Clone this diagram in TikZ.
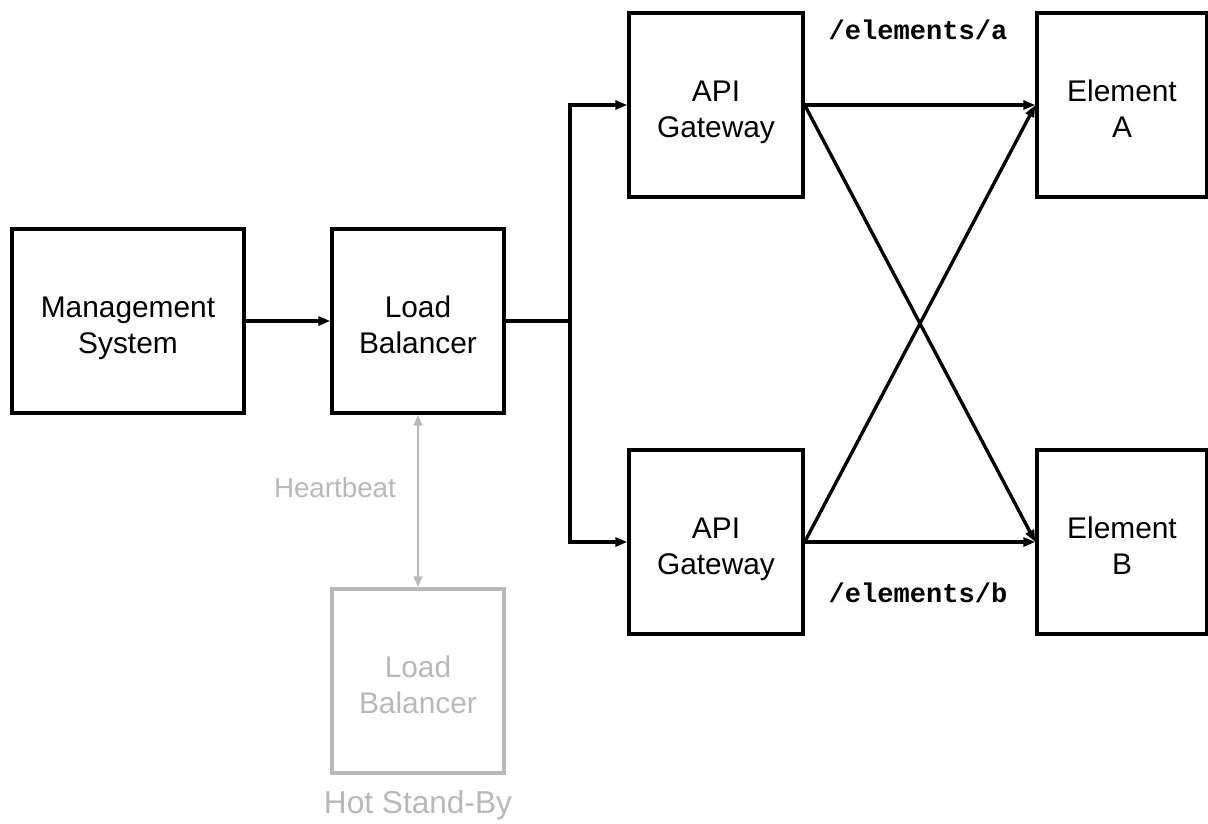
\documentclass[tikz,border=0pt]{standalone}
\usepackage{fontspec}
\setmainfont{Liberation Sans}
\setmonofont{Liberation Mono}
\usetikzlibrary{arrows.meta}
\definecolor{standby}{RGB}{185,185,185}
\begin{document}
\begin{tikzpicture}[
    x=0.02cm, y=-0.02cm,
    box/.style={
        rectangle,
        draw=black,
        line width=1.9pt,
        minimum width=3.44cm,
        minimum height=3.68cm,
        font=\fontsize{17}{20.5}\selectfont,
        text height=37pt,
        text depth=0pt,
        align=center
    },
    hotbox/.style={box, draw=standby, text=standby},
    path/.style={font=\fontsize{15.4}{18}\selectfont\ttfamily\bfseries},
    arrow/.style={-{Triangle[length=0.24cm,width=0.18cm]}, line width=1.9pt},
    hb/.style={{Triangle[length=0.22cm,width=0.17cm]}-{Triangle[length=0.22cm,width=0.17cm]}, line width=1.4pt, standby},
    hblabel/.style={font=\fontsize{15.8}{19}\selectfont, text=standby}
]
\useasboundingbox (0,0) rectangle (1208,823);

\node[box, minimum width=4.64cm] (ms) at (128,321) {Management\\System};
\node[box] (lb) at (418,321) {Load\\Balancer};
\node[hotbox] (sb) at (418,681) {Load\\Balancer};
\node[hblabel, font=\fontsize{18}{21}\selectfont] (hot) at (418,805) {Hot Stand-By};

\node[box, minimum width=3.48cm] (gw1) at (716,105) {API\\Gateway};
\node[box, minimum width=3.48cm] (gw2) at (716,542) {API\\Gateway};
\node[box, minimum width=3.4cm] (ea) at (1122,105) {Element\\A};
\node[box, minimum width=3.4cm] (eb) at (1122,542) {Element\\B};

\node[path] (pa) at (918,30) {/elements/a};
\node[path] (pb) at (918,593) {/elements/b};

\coordinate (split) at (570,321);

\draw[arrow] (ms) -- (lb);
\draw[line width=1.9pt] (lb) -- (split);
\draw[arrow] (split) |- (gw1);
\draw[arrow] (split) |- (gw2);

\draw[arrow] (gw1) -- (ea);
\draw[arrow] (gw2) -- (eb);
\draw[arrow] (gw1.east) -- (eb.west);
\draw[arrow] (gw2.east) -- (ea.west);

\draw[hb] (lb) -- (sb) node[hblabel, pos=0.42, left=0.3cm] (hbl) {Heartbeat};

\end{tikzpicture}
\end{document}
